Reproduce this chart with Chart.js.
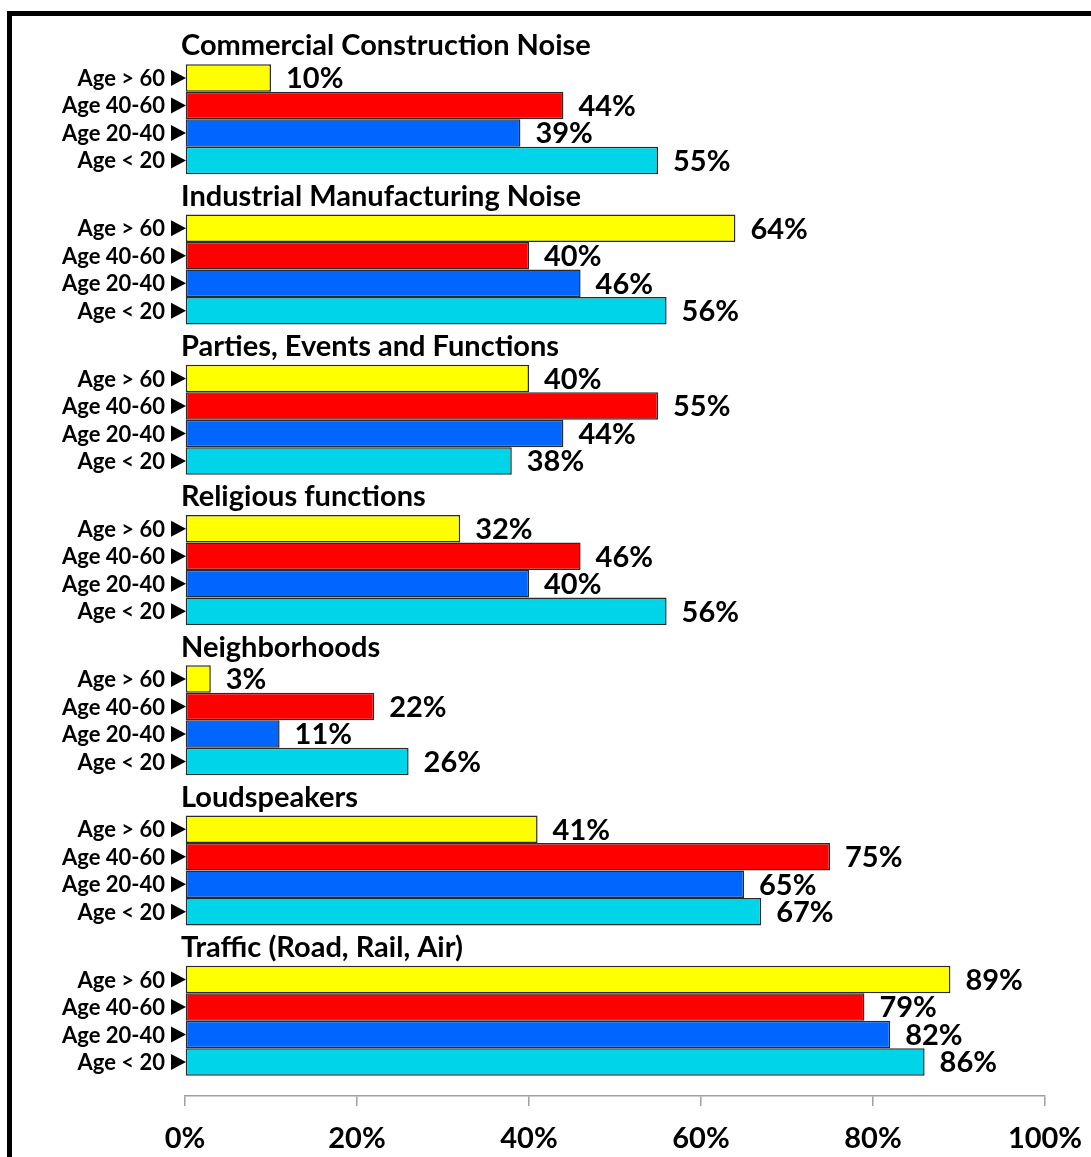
<!DOCTYPE html>
<html>
<head>
<meta charset="utf-8">
<script src="https://cdn.jsdelivr.net/npm/chart.js@4.4.1/dist/chart.umd.min.js"></script>
<style>
  html, body { margin: 0; padding: 0; background: #fff; }
  #wrap { position: relative; width: 1091px; height: 1157px; overflow: hidden; }
  #frame {
    position: absolute; left: 7px; top: 11px; right: -10px; bottom: -10px;
    border-top: 5px solid #000; border-left: 5px solid #000;
  }
  #noiseChart { position: absolute; left: 0; top: 0; }
</style>
</head>
<body>
<div id="wrap">
  <div id="frame"></div>
  <canvas id="noiseChart" width="1091" height="1157"></canvas>
</div>
<script>
  // noise sources, one block of bars each
  const sources = [
    'Commercial Construction Noise',
    'Industrial Manufacturing Noise',
    'Parties, Events and Functions',
    'Religious functions',
    'Neighborhoods',
    'Loudspeakers',
    'Traffic (Road, Rail, Air)'
  ];

  const ageGroups = ['Age > 60', 'Age 40-60', 'Age 20-40', 'Age < 20'];
  const ageColors = ['#FFFF00', '#FF0000', '#0066FF', '#00D4E8'];

  // percent of respondents per source, one list per age group
  const over60 = [10, 64, 40, 32, 3, 41, 89];
  const age40to60 = [44, 40, 55, 46, 22, 75, 79];
  const age20to40 = [39, 46, 44, 40, 11, 65, 82];
  const under20 = [55, 56, 38, 56, 26, 67, 86];

  const xTicks = [0, 20, 40, 60, 80, 100];

  const FONT = 'Lato, sans-serif';

  // age labels + arrow, value labels and block titles
  const barText = {
    id: 'barText',
    afterDatasetsDraw(chart) {
      const ctx = chart.ctx;
      const area = chart.chartArea;
      const yScale = chart.scales.y;
      ctx.save();
      ctx.fillStyle = '#000';
      ctx.textBaseline = 'middle';

      chart.data.datasets.forEach((ds, i) => {
        const meta = chart.getDatasetMeta(i);
        meta.data.forEach((bar, j) => {
          // age group on the left
          ctx.font = 'bold 22px ' + FONT;
          ctx.textAlign = 'right';
          ctx.fillText(ds.label, area.left - 20, bar.y + 1);
          ctx.beginPath();
          ctx.moveTo(area.left - 14, bar.y - 8);
          ctx.lineTo(area.left + 1, bar.y);
          ctx.lineTo(area.left - 14, bar.y + 8);
          ctx.closePath();
          ctx.fill();
          // value next to the bar end
          ctx.font = 'bold 29px ' + FONT;
          ctx.textAlign = 'left';
          ctx.fillText(ds.data[j] + '%', bar.x + 15, bar.y + 1);
        });
      });

      // titles sit in the gap above each block
      const step = yScale.getPixelForValue(1) - yScale.getPixelForValue(0);
      ctx.font = 'bold 29px ' + FONT;
      ctx.textAlign = 'left';
      sources.forEach((name, k) => {
        const y = yScale.getPixelForValue(k) - step / 2;
        ctx.fillText(name, area.left - 4, y + 2);
      });
      ctx.restore();
    }
  };

  const seriesValues = [over60, age40to60, age20to40, under20];

  new Chart(document.getElementById('noiseChart'), {
    type: 'bar',
    data: {
      labels: sources,
      datasets: ageGroups.map((g, i) => ({
        label: g,
        data: seriesValues[i],
        backgroundColor: ageColors[i],
        borderColor: '#2b2b2b',
        borderWidth: 1.5,
        borderSkipped: false
      }))
    },
    options: {
      indexAxis: 'y',
      responsive: false,
      animation: false,
      layout: { padding: { left: 185, right: 46, top: 44, bottom: 0 } },
      categoryPercentage: 0.732,
      barPercentage: 1,
      plugins: {
        legend: { display: false },
        tooltip: { enabled: false }
      },
      scales: {
        y: { display: false },
        x: {
          min: 0,
          max: 100,
          afterFit(scale) {
            scale.height = 61;
            // the 100% label may run into the right margin
            scale.paddingLeft = 0;
            scale.paddingRight = 0;
          },
          afterBuildTicks(scale) { scale.ticks = xTicks.map(v => ({ value: v })); },
          border: { color: '#a0a0a0', width: 1.5 },
          grid: {
            drawOnChartArea: false,
            tickLength: 10,
            color: '#a0a0a0',
            lineWidth: 1.5
          },
          ticks: {
            padding: 15,
            color: '#000',
            font: { family: FONT, size: 29, weight: 'bold' },
            callback: v => v + '%'
          }
        }
      }
    },
    plugins: [barText]
  });
</script>
</body>
</html>
